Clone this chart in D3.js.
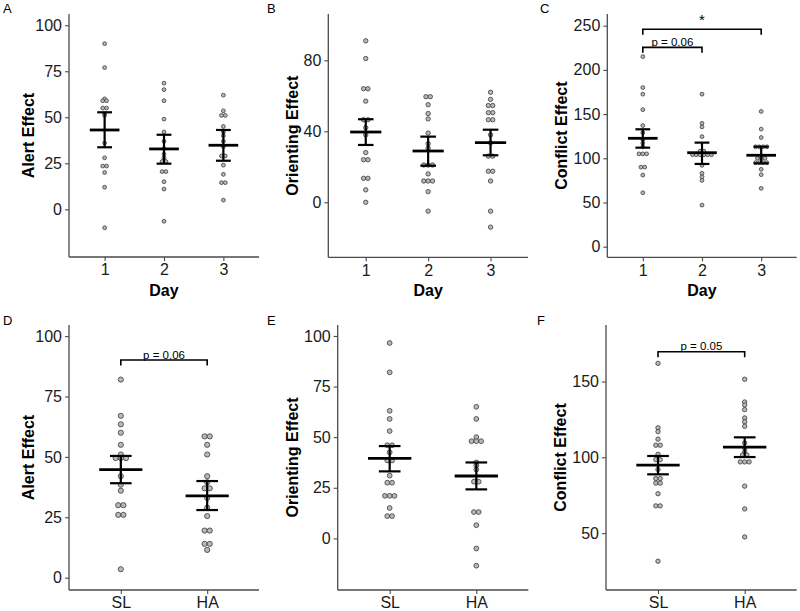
<!DOCTYPE html>
<html>
<head>
<meta charset="utf-8">
<script src="https://cdn.jsdelivr.net/npm/d3@7"></script>
<style>
  html, body { margin: 0; padding: 0; background: #fff; }
  svg { display: block; font-family: "Liberation Sans", Arial, sans-serif; }
</style>
</head>
<body>
<svg id="chart" width="800" height="611"></svg>
<script>
// ---------- DATA ----------
const dayCats = ["1", "2", "3"];
const groupCats = ["SL", "HA"];

// Panel A: Alert effect by day
const alertDay = [
  [90, 77, 60, 59, 59, 55, 55, 52, 51, 36, 28, 23.5, 23.5, 20, 12, -10],
  [68.5, 65, 59, 49, 42, 37, 33, 30, 28, 26, 26, 20.5, 20.5, 15, 11, -6.5],
  [62, 53.5, 51, 51, 45, 42, 40, 37, 34, 29, 29, 24, 19, 14.5, 14.5, 5]
];
const alertDayMean = [43.1, 32.8, 34.8];
const alertDayLo = [33.7, 24.8, 26.4];
const alertDayHi = [52.7, 40.5, 43.1];

// Panel B: Orienting effect by day
const orientDay = [
  [91, 81, 64, 64, 57, 46.5, 46.5, 42, 38, 28, 24, 24, 13.5, 13.5, 7, 0],
  [59.5, 59.5, 55, 50, 47, 39, 33, 30.5, 21, 21, 21, 16, 12, 12, 12, 6, -5],
  [62, 58, 54.5, 54.5, 50.5, 50.5, 46.5, 46.5, 38, 33.5, 26, 26, 17.5, 17.5, 12, -5, -14]
];
const orientDayMean = [39.6, 28.9, 33.6];
const orientDayLo = [32.3, 20.6, 26.5];
const orientDayHi = [46.8, 37.0, 40.9];

// Panel C: Conflict effect by day
const conflictDay = [
  [215, 180, 172.5, 155, 137, 129, 121, 117, 113, 105, 105, 105, 90, 90, 81, 61],
  [172.5, 139.5, 135.5, 124.5, 108, 108, 104, 104, 104, 104, 104, 104, 92, 83, 79, 75, 47],
  [153, 133, 123.5, 113, 113, 113, 113, 100, 100, 100, 95, 95, 95, 95, 87.5, 81.5, 66]
];
const conflictDayMean = [122.6, 106.3, 103.4];
const conflictDayLo = [112, 93.6, 94.3];
const conflictDayHi = [132.8, 117.7, 113.1];

// Panel D: Alert effect by group
const alertGroup = [
  [82, 67, 63.5, 60, 55, 51, 49.5, 49.5, 49.5, 42, 38.5, 36, 30, 30, 26, 26, 3.5],
  [58.5, 58.5, 55, 51, 42, 39.5, 37, 37, 33, 29, 25.5, 19.5, 19.5, 14, 14, 11.5]
];
const alertGroupMean = [44.7, 33.9];
const alertGroupLo = [39.1, 28.0];
const alertGroupHi = [50.4, 40.0];

// Panel E: Orienting effect by group
const orientGroup = [
  [96.5, 82, 63, 59, 53, 46, 46, 42.5, 38.5, 38.5, 31, 27.5, 27.5, 21, 21, 21, 15, 11, 11],
  [65, 59, 50, 48, 48, 48, 37.5, 36, 34, 28, 28, 13, 13, 6.5, -5, -13.5]
];
const orientGroupMean = [39.5, 30.8];
const orientGroupLo = [33.1, 24.2];
const orientGroupHi = [45.6, 37.5];

// Panel F: Conflict effect by group
const conflictGroup = [
  [162, 119.5, 117, 112, 108, 108, 102, 98.5, 98.5, 92, 86, 86, 83, 83, 76, 68, 68, 31.5],
  [151.5, 136.5, 134.5, 131.5, 126, 123.5, 120.5, 109.5, 106, 103.5, 101.5, 101.5, 97, 97, 97, 81, 66, 47.5]
];
const conflictGroupMean = [94.9, 106.8];
const conflictGroupLo = [88.8, 100.2];
const conflictGroupHi = [100.9, 113.2];

// Tick labels
const alertTicks = [0, 25, 50, 75, 100];
const orientDayTicks = [0, 40, 80];
const conflictDayTicks = [0, 50, 100, 150, 200, 250];
const orientGroupTicks = [0, 25, 50, 75, 100];
const conflictGroupTicks = [50, 100, 150];

// Significance annotations: [fromIndex, toIndex, yValue, label]
const sigC = [[0, 2, 246, "*"], [0, 1, 225.5, "p = 0.06"]];
const sigD = [[0, 1, 90.1, "p = 0.06"]];
const sigF = [[0, 1, 169.7, "p = 0.05"]];

// ---------- DRAW ----------
const svg = d3.select("#chart");
const FONT = "'Liberation Sans', Arial, sans-serif";

function drawPanel(cfg) {
  const g = svg.append("g");
  const x = d3.scalePoint().domain(cfg.cats).range([cfg.x0, cfg.x1]).padding(0.6);
  const y = d3.scaleLinear().domain(cfg.yDomain).range([cfg.y1, cfg.y0]);
  const step = x.step();

  // axes
  const ax = g.append("g").attr("transform", `translate(${cfg.x0},0)`)
    .call(d3.axisLeft(y).tickValues(cfg.ticks).tickSize(4).tickPadding(3).tickFormat(d3.format("d")));
  const bx = g.append("g").attr("transform", `translate(0,${cfg.y1})`)
    .call(d3.axisBottom(x).tickSize(4).tickPadding(3));
  [ax, bx].forEach(a => {
    a.select(".domain").attr("stroke", "#4a4a4a").attr("stroke-width", 1.3);
    a.selectAll(".tick line").attr("stroke", "#4a4a4a").attr("stroke-width", 1.1);
    a.selectAll(".tick text").attr("fill", "#1a1a1a").style("font-size", "16px").style("font-family", FONT);
  });
  // fix domain extents (no outer ticks)
  ax.select(".domain").attr("d", `M0,${cfg.y0}V${cfg.y1}`);
  bx.select(".domain").attr("d", `M${cfg.x0},0H${cfg.x1}`);

  // y title
  g.append("text")
    .attr("transform", `translate(${cfg.ytx},${(cfg.y0 + cfg.y1) / 2}) rotate(-90)`)
    .attr("text-anchor", "middle").attr("dominant-baseline", "central")
    .style("font-size", "16px").style("font-weight", "bold").style("font-family", FONT)
    .attr("fill", "#000").text(cfg.ytitle);
  if (cfg.xtitle) {
    g.append("text").attr("x", (cfg.x0 + cfg.x1) / 2).attr("y", cfg.y1 + 39)
      .attr("text-anchor", "middle")
      .style("font-size", "16px").style("font-weight", "bold").style("font-family", FONT)
      .attr("fill", "#000").text(cfg.xtitle);
  }
  // panel letter
  g.append("text").attr("x", cfg.lx).attr("y", cfg.ly)
    .style("font-size", "13px").style("font-family", FONT).attr("fill", "#000").text(cfg.letter);

  // dots (stacked side by side when equal)
  const r = cfg.r;
  cfg.values.forEach((vals, i) => {
    const groups = d3.groups(vals, v => v);
    groups.forEach(([v, arr]) => {
      const m = arr.length;
      arr.forEach((_, j) => {
        g.append("circle")
          .attr("cx", x(cfg.cats[i]) + (j - (m - 1) / 2) * 2 * r)
          .attr("cy", y(v))
          .attr("r", r)
          .attr("fill", "#b8b8b8")
          .attr("stroke", "#3a3a3a")
          .attr("stroke-width", 0.8);
      });
    });
  });

  // error bars
  cfg.cats.forEach((c, i) => {
    const cx = x(c);
    const meanW = step * 0.5, capW = step * 0.25;
    g.append("line").attr("x1", cx).attr("x2", cx)
      .attr("y1", y(cfg.lo[i])).attr("y2", y(cfg.hi[i]))
      .attr("stroke", "#000").attr("stroke-width", 2.2);
    [cfg.lo[i], cfg.hi[i]].forEach(v => {
      g.append("line").attr("x1", cx - capW / 2).attr("x2", cx + capW / 2)
        .attr("y1", y(v)).attr("y2", y(v))
        .attr("stroke", "#000").attr("stroke-width", 2.2);
    });
    g.append("line").attr("x1", cx - meanW / 2).attr("x2", cx + meanW / 2)
      .attr("y1", y(cfg.mean[i])).attr("y2", y(cfg.mean[i]))
      .attr("stroke", "#000").attr("stroke-width", 2.8);
  });

  // significance brackets
  (cfg.sig || []).forEach(([a, b, v, lab]) => {
    const xa = x(cfg.cats[a]), xb = x(cfg.cats[b]), yy = y(v);
    g.append("path")
      .attr("d", `M${xa},${yy + 5.5}V${yy}H${xb}V${yy + 5.5}`)
      .attr("fill", "none").attr("stroke", "#000").attr("stroke-width", 1.6);
    const star = lab === "*";
    g.append("text").attr("x", (xa + xb) / 2).attr("y", star ? yy - 4 : yy - 1.5)
      .attr("text-anchor", "middle")
      .style("font-size", star ? "15px" : "11.5px").style("font-family", FONT)
      .attr("fill", "#000").text(lab);
  });
}

drawPanel({ letter: "A", lx: 3, ly: 13, cats: dayCats, x0: 69, x1: 259, y0: 14, y1: 257,
  yDomain: [-25.9, 106.1], ticks: alertTicks, ytitle: "Alert Effect", ytx: 28, xtitle: "Day",
  values: alertDay, mean: alertDayMean, lo: alertDayLo, hi: alertDayHi, r: 1.9 });
drawPanel({ letter: "B", lx: 267, ly: 13, cats: dayCats, x0: 328.3, x1: 528, y0: 14, y1: 257.3,
  yDomain: [-31, 106.1], ticks: orientDayTicks, ytitle: "Orienting Effect", ytx: 292, xtitle: "Day",
  values: orientDay, mean: orientDayMean, lo: orientDayLo, hi: orientDayHi, r: 2.2 });
drawPanel({ letter: "C", lx: 540, ly: 13, cats: dayCats, x0: 607.3, x1: 796.7, y0: 14, y1: 257.3,
  yDomain: [-12, 263.2], ticks: conflictDayTicks, ytitle: "Conflict Effect", ytx: 561, xtitle: "Day",
  values: conflictDay, mean: conflictDayMean, lo: conflictDayLo, hi: conflictDayHi, r: 1.9, sig: sigC });
drawPanel({ letter: "D", lx: 3, ly: 325, cats: groupCats, x0: 69, x1: 259, y0: 325, y1: 590,
  yDomain: [-5.1, 104.6], ticks: alertTicks, ytitle: "Alert Effect", ytx: 28,
  values: alertGroup, mean: alertGroupMean, lo: alertGroupLo, hi: alertGroupHi, r: 2.6, sig: sigD });
drawPanel({ letter: "E", lx: 267, ly: 325, cats: groupCats, x0: 337.7, x1: 528.3, y0: 325, y1: 590,
  yDomain: [-25.5, 105.4], ticks: orientGroupTicks, ytitle: "Orienting Effect", ytx: 292,
  values: orientGroup, mean: orientGroupMean, lo: orientGroupLo, hi: orientGroupHi, r: 2.4 });
drawPanel({ letter: "F", lx: 537, ly: 325, cats: groupCats, x0: 606, x1: 796.7, y0: 325, y1: 590,
  yDomain: [12.5, 187.3], ticks: conflictGroupTicks, ytitle: "Conflict Effect", ytx: 560,
  values: conflictGroup, mean: conflictGroupMean, lo: conflictGroupLo, hi: conflictGroupHi, r: 2.2, sig: sigF });
</script>
</body>
</html>
